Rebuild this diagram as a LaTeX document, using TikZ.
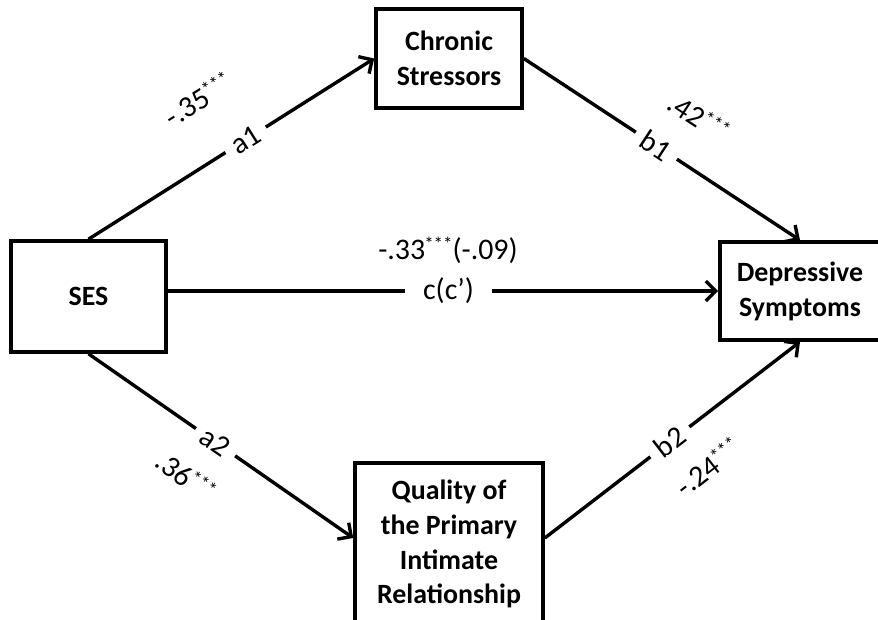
\documentclass[tikz,border=0pt]{standalone}
\usepackage{fontspec}
\setmainfont{Carlito}
\usetikzlibrary{arrows.meta}
\newcommand{\stars}{\kern-1bp\raisebox{9bp}{\fontsize{19}{19}\selectfont ***}}
\begin{document}
\begin{tikzpicture}[x=1bp,y=-1bp,
  box/.style={draw, line width=3.6bp, inner sep=0pt, align=center, font=\fontsize{28}{35}\selectfont\bfseries},
  conn/.style={line width=3.4bp, -{Straight Barb[length=10bp,width=20bp]}},
  lab/.style={font=\fontsize{30}{34}\selectfont, inner sep=1bp},
  gap/.style={lab, fill=white, sloped, inner xsep=9bp, inner ysep=1bp}]
\clip (0,0) rectangle (878,620);
\useasboundingbox (0,0) rectangle (878,620);
\node[box, minimum width=146bp, minimum height=99bp] (cs) at (449,58.5) {Chronic\\Stressors};
\node[box, minimum width=155bp, minimum height=111bp] (ses) at (88.5,296.5) {SES};
\node[box, minimum width=160bp, minimum height=98bp] (dep) at (800,291) {Depressive\\Symptoms};
\node[box, minimum width=188bp, minimum height=162bp] (q) at (449,544) {Quality of\\the Primary\\Intimate\\Relationship};
\draw[conn] (ses.north) -- node[gap, pos=0.55] (la1) {a1} (cs.west);
\draw[conn] (cs.east) -- node[gap, pos=0.48] (lb1) {b1} (dep.north);
\draw[conn] (ses.east |- dep.west) -- node[gap, pos=0.51, inner xsep=18bp] (lc) {c(c’)} (dep.west);
\draw[conn] (ses.south) -- node[gap, pos=0.48] (la2) {a2} ([yshift=6bp]q.west);
\draw[conn] ([yshift=6bp]q.east) -- node[gap, pos=0.49] (lb2) {b2} (dep.south);
\node[lab, rotate=32] (ca1) at (198,99) {-.35\stars};
\node[lab, rotate=-33] (cb1) at (699,117) {.42\stars};
\node[lab] (cc) at (448,250) {-.33\stars(-.09)};
\node[lab, rotate=-36] (ca2) at (186,476) {.36\stars};
\node[lab, rotate=38] (cb2) at (708,467) {-.24\stars};
\end{tikzpicture}
\end{document}
